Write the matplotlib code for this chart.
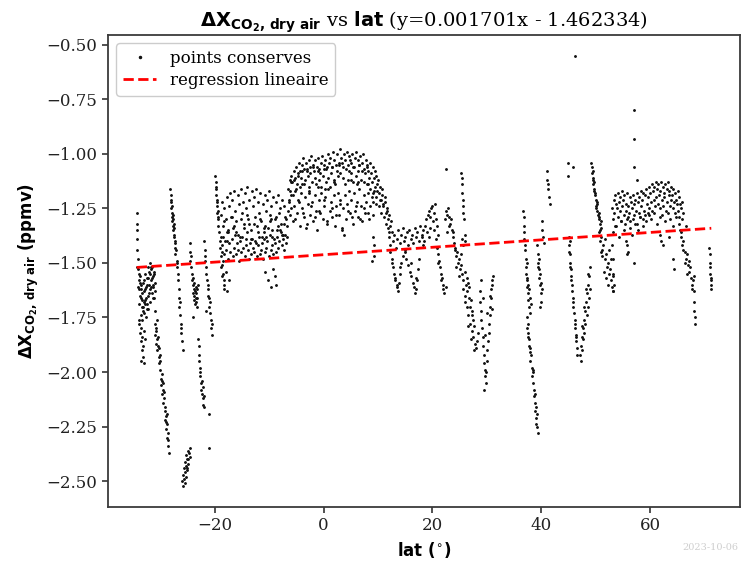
import matplotlib
matplotlib.use("Agg")
import matplotlib.pyplot as plt
import numpy as np

# ---------------- data ----------------
slope = 0.001701
intercept = -1.462334

# lat -34.3 .. -30.8
lat_s1 = [-34.3, -34.2, -34.3, -34.2, -34.3, -34.1, -34.2,
          -34.0, -33.9, -33.8, -33.7, -33.6, -33.5, -33.4, -33.3, -33.2, -33.1, -33.0, -32.9, -32.8, -32.7, -32.6, -32.5,
          -32.4, -32.3, -32.2, -32.1, -32.0, -31.9, -31.8, -31.7, -31.6, -31.5, -31.4, -31.3, -31.2, -31.1, -31.0, -30.9,
          -34.05, -33.95, -33.85, -33.75, -33.65, -33.55, -33.45, -33.35, -33.25, -33.15, -33.05, -32.95, -32.85, -32.75,
          -32.65, -32.55, -32.45, -32.35, -32.25, -32.15, -32.05, -31.95, -31.85, -31.75, -31.65, -31.55, -31.45, -31.35,
          -31.25, -31.15,
          -33.9, -33.7, -33.5, -33.6, -33.3, -33.4, -33.1, -33.2, -32.9, -33.0, -32.8, -33.5, -33.8]
val_s1 = [-1.27, -1.32, -1.35, -1.39, -1.44, -1.48, -1.52,
          -1.53, -1.58, -1.62, -1.56, -1.66, -1.60, -1.70, -1.64, -1.72, -1.59, -1.68, -1.63, -1.55, -1.67, -1.61, -1.71,
          -1.57, -1.65, -1.52, -1.60, -1.54, -1.62, -1.50, -1.58, -1.53, -1.64, -1.56, -1.61, -1.55, -1.66, -1.59, -1.63,
          -1.61, -1.55, -1.69, -1.65, -1.59, -1.74, -1.62, -1.76, -1.67, -1.70, -1.58, -1.73, -1.69, -1.62,
          -1.75, -1.66, -1.69, -1.60, -1.71, -1.57, -1.64, -1.55, -1.68, -1.52, -1.61, -1.57, -1.52, -1.66,
          -1.60, -1.54,
          -1.78, -1.82, -1.80, -1.86, -1.84, -1.90, -1.88, -1.93, -1.81, -1.96, -1.85, -1.95, -1.76]

# lat -31 .. -28.4 (descending streak)
lat_s2 = [-31.0, -30.9, -30.8, -30.7, -30.6, -30.5, -30.4, -30.3, -30.2, -30.1, -30.0, -29.9, -29.8, -29.7, -29.6,
          -29.5, -29.4, -29.3, -29.2, -29.1, -29.0, -28.9, -28.8, -28.7, -28.6, -28.5, -28.4,
          -30.95, -30.75, -30.55, -30.35, -30.15, -29.95, -29.75, -29.55, -29.35, -29.15, -28.95, -28.75, -28.55]
val_s2 = [-1.78, -1.83, -1.80, -1.87, -1.85, -1.90, -1.88, -1.93, -1.96, -1.92, -1.99, -2.03, -2.06, -2.01, -2.10,
          -2.08, -2.14, -2.12, -2.18, -2.22, -2.20, -2.26, -2.24, -2.30, -2.28, -2.34, -2.37,
          -1.72, -1.81, -1.76, -1.84, -1.89, -1.95, -2.04, -2.05, -2.09, -2.16, -2.23, -2.19, -2.31]

# lat -28.2 .. -25.9 (streak from -1.16)
lat_s3 = [-28.2, -28.1, -28.1, -28.0, -28.0, -27.9, -27.9, -27.8, -27.8, -27.7, -27.7, -27.6, -27.6, -27.5, -27.5,
          -27.4, -27.4, -27.3, -27.3, -27.2, -27.2, -27.1, -27.0, -27.0, -26.9, -26.8, -26.7, -26.6, -26.6, -26.5,
          -26.4, -26.3, -26.2, -26.2, -26.1, -26.0, -25.9]
val_s3 = [-1.16, -1.19, -1.22, -1.21, -1.25, -1.27, -1.24, -1.29, -1.31, -1.28, -1.33, -1.30, -1.35, -1.32, -1.37,
          -1.34, -1.38, -1.40, -1.43, -1.41, -1.46, -1.44, -1.49, -1.52, -1.50, -1.55, -1.58, -1.62, -1.66, -1.70,
          -1.68, -1.74, -1.78, -1.82, -1.80, -1.86, -1.90]

# low cluster lat -26 .. -24.5
lat_s4 = [-26.0, -25.9, -25.8, -25.7, -25.6, -25.5, -25.4, -25.3, -25.2, -25.1, -25.0, -24.9, -24.8, -24.7, -24.6,
          -24.5, -25.5, -25.3, -25.0, -24.8]
val_s4 = [-2.50, -2.52, -2.47, -2.49, -2.44, -2.46, -2.41, -2.43, -2.38, -2.45, -2.40, -2.36, -2.42, -2.37, -2.35,
          -2.39, -2.51, -2.48, -2.44, -2.40]

# lat -24.6 .. -23.1
lat_s5 = [-24.6, -24.5, -24.5, -24.4, -24.3, -24.2, -24.1, -24.0, -23.9, -23.9, -23.8, -23.8, -23.7, -23.7, -23.6,
          -23.6, -23.5, -23.5, -23.4, -23.4, -23.3, -23.3, -23.2, -23.1, -24.0]
val_s5 = [-1.41, -1.45, -1.49, -1.47, -1.52, -1.55, -1.58, -1.57, -1.60, -1.64, -1.62, -1.67, -1.59, -1.65, -1.63,
          -1.69, -1.61, -1.66, -1.68, -1.64, -1.70, -1.62, -1.66, -1.60, -1.75]

# lat -23 .. -20.4
lat_s6 = [-23.0, -22.9, -22.9, -22.8, -22.7, -22.7, -22.6, -22.5, -22.5, -22.4, -22.3, -22.2, -22.2, -22.1, -22.0,
          -21.9, -21.0, -21.0,
          -21.9, -21.8, -21.8, -21.7, -21.6, -21.5, -21.4, -21.3, -21.2, -21.1, -21.0, -20.9, -20.8, -20.7, -20.6,
          -20.5, -20.4, -21.5, -21.2]
val_s6 = [-1.85, -1.88, -1.92, -1.95, -1.98, -2.02, -2.00, -2.05, -2.08, -2.04, -2.10, -2.07, -2.12, -2.15, -2.11,
          -2.16, -2.19, -2.35,
          -1.40, -1.44, -1.49, -1.47, -1.52, -1.55, -1.58, -1.62, -1.60, -1.66, -1.70, -1.68, -1.73, -1.76, -1.80,
          -1.78, -1.83, -1.72, -1.65]

# lat -19.9 .. -18.2
lat_s7 = [-19.9, -19.8, -19.8, -19.7, -19.7, -19.6, -19.6, -19.5, -19.5, -19.4, -19.4, -19.3, -19.3, -19.2, -19.1,
          -19.0, -18.9, -18.8, -18.7, -18.6, -18.5, -18.4, -18.3, -18.2]
val_s7 = [-1.10, -1.13, -1.16, -1.15, -1.19, -1.21, -1.24, -1.22, -1.27, -1.26, -1.30, -1.33, -1.29, -1.36, -1.40,
          -1.43, -1.38, -1.47, -1.51, -1.45, -1.55, -1.49, -1.58, -1.62]

# cloud lat -18.8 .. -6.6
lat_s8 = [-18.8, -18.6, -18.4, -18.2, -18.0, -17.8, -17.6, -17.4, -17.2, -17.0, -16.8, -16.6, -16.4, -16.2, -16.0,
          -15.8, -15.6, -15.4, -15.2, -15.0, -14.8, -14.6, -14.4, -14.2, -14.0, -13.8, -13.6, -13.4, -13.2, -13.0,
          -12.8, -12.6, -12.4, -12.2, -12.0, -11.8, -11.6, -11.4, -11.2, -11.0, -10.8, -10.6, -10.4, -10.2, -10.0,
          -9.8, -9.6, -9.4, -9.2, -9.0, -8.8, -8.6, -8.4, -8.2, -8.0, -7.8, -7.6, -7.4, -7.2, -7.0, -6.8, -6.6,
          -18.7, -18.5, -18.3, -18.1, -17.9, -17.7, -17.5, -17.3, -17.1, -16.9, -16.7, -16.5, -16.3, -16.1, -15.9,
          -15.7, -15.5, -15.3, -15.1, -14.9, -14.7, -14.5, -14.3, -14.1, -13.9, -13.7, -13.5, -13.3, -13.1, -12.9,
          -12.7, -12.5, -12.3, -12.1, -11.9, -11.7, -11.5, -11.3, -11.1, -10.9, -10.7, -10.5, -10.3, -10.1, -9.9,
          -9.7, -9.5, -9.3, -9.1, -8.9, -8.7, -8.5, -8.3, -8.1, -7.9, -7.7, -7.5, -7.3, -7.1, -6.9, -6.7,
          -18.3, -17.5, -16.9, -16.4, -15.7, -15.1, -14.6, -14.0, -13.3, -12.7, -12.1, -11.6, -11.0, -10.5, -9.9,
          -9.4, -8.8, -8.3, -7.7, -7.2, -17.8, -16.0, -14.3, -12.4, -10.8, -9.6, -8.0, -6.9, -13.6, -11.3,
          -10.8, -10.2, -9.6, -9.0, -8.7, -9.3,
          -18.9, -18.6, -18.3, -18.0, -17.7, -17.4]
val_s8 = [-1.28, -1.22, -1.33, -1.25, -1.30, -1.20, -1.36, -1.24, -1.18, -1.29, -1.21, -1.34, -1.17, -1.26, -1.31,
          -1.19, -1.23, -1.38, -1.16, -1.27, -1.22, -1.32, -1.18, -1.25, -1.15, -1.30, -1.21, -1.35, -1.17, -1.24,
          -1.20, -1.29, -1.16, -1.33, -1.22, -1.27, -1.18, -1.31, -1.23, -1.36, -1.19, -1.26, -1.21, -1.34, -1.17,
          -1.28, -1.24, -1.38, -1.20, -1.30, -1.22, -1.35, -1.19, -1.27, -1.25, -1.32, -1.21, -1.37, -1.24, -1.29,
          -1.33, -1.26,
          -1.42, -1.38, -1.46, -1.40, -1.44, -1.36, -1.48, -1.41, -1.45, -1.39, -1.47, -1.43, -1.37, -1.46, -1.41,
          -1.44, -1.49, -1.40, -1.45, -1.38, -1.43, -1.47, -1.42, -1.36, -1.44, -1.48, -1.41, -1.46, -1.39, -1.43,
          -1.45, -1.40, -1.47, -1.42, -1.38, -1.46, -1.44, -1.41, -1.48, -1.39, -1.45, -1.43, -1.40, -1.47, -1.37,
          -1.44, -1.42, -1.46, -1.39, -1.41, -1.45, -1.38, -1.43, -1.40, -1.36, -1.42, -1.39, -1.44, -1.37, -1.41,
          -1.38,
          -1.31, -1.35, -1.29, -1.33, -1.37, -1.30, -1.34, -1.28, -1.39, -1.32, -1.36, -1.30, -1.34, -1.38, -1.31,
          -1.35, -1.29, -1.33, -1.37, -1.32, -1.40, -1.36, -1.39, -1.41, -1.33, -1.30, -1.35, -1.30, -1.32, -1.38,
          -1.54, -1.58, -1.61, -1.56, -1.60, -1.53,
          -1.52, -1.56, -1.60, -1.54, -1.63, -1.58]

# equatorial band lat -6.5 .. 9.6
lat_s9 = [-6.5, -6.25, -6.0, -5.75, -5.5, -5.25, -5.0, -4.75, -4.5, -4.25, -4.0, -3.75, -3.5, -3.25, -3.0, -2.75,
          -2.5, -2.25, -2.0, -1.75, -1.5, -1.25, -1.0, -0.75, -0.5, -0.25, 0.0, 0.25, 0.5, 0.75, 1.0, 1.25, 1.5,
          1.75, 2.0, 2.25, 2.5, 2.75, 3.0, 3.25, 3.5, 3.75, 4.0, 4.25, 4.5, 4.75, 5.0, 5.25, 5.5, 5.75, 6.0, 6.25,
          6.5, 6.75, 7.0, 7.25, 7.5, 7.75, 8.0, 8.25, 8.5, 8.75, 9.0, 9.25, 9.5,
          -6.4, -6.1, -5.9, -5.6, -5.4, -5.1, -4.9, -4.6, -4.4, -4.1, -3.9, -3.6, -3.4, -3.1, -2.9, -2.6, -2.4,
          -2.1, -1.9, -1.6, -1.4, -1.1, -0.9, -0.6, -0.4, -0.1, 0.1, 0.4, 0.6, 0.9, 1.1, 1.4, 1.6, 1.9, 2.1, 2.4,
          2.6, 2.9, 3.1, 3.4, 3.6, 3.9, 4.1, 4.4, 4.6, 4.9, 5.1, 5.4, 5.6, 5.9, 6.1, 6.4, 6.6, 6.9, 7.1, 7.4, 7.6,
          7.9, 8.1, 8.4, 8.6, 8.9, 9.1, 9.4,
          -6.4, -6.15, -5.9, -5.65, -5.4, -5.15, -4.9, -4.65, -4.4, -4.15, -3.9, -3.65, -3.4, -3.15, -2.9, -2.65,
          -2.4, -2.15, -1.9, -1.65, -1.4, -1.15, -0.9, -0.65, -0.4, -0.15, 0.1, 0.35, 0.6, 0.85, 1.1, 1.35, 1.6,
          1.85, 2.1, 2.35, 2.6, 2.85, 3.1, 3.35, 3.6, 3.85, 4.1, 4.35, 4.6, 4.85, 5.1, 5.35, 5.6, 5.85, 6.1, 6.35,
          6.6, 6.85, 7.1, 7.35, 7.6, 7.85, 8.1, 8.35, 8.6, 8.85, 9.1, 9.35, 9.6,
          -6.0, -5.3, -4.5, -3.8, -3.0, -2.3, -1.5, -0.8, 0.0, 0.7, 1.5, 2.2, 3.0, 3.3, 3.7, 4.5, 5.2, 6.0, 6.7,
          7.5, 8.2, 9.0, -4.0, -1.0, 2.0, 5.0, 8.0, -2.7, 0.3, 6.4]
val_s9 = [-1.16, -1.12, -1.10, -1.13, -1.08, -1.11, -1.06, -1.09, -1.04, -1.08, -1.05, -1.02, -1.07, -1.04, -1.08,
          -1.03, -1.06, -1.01, -1.05, -1.08, -1.03, -1.06, -1.02, -1.07, -1.04, -1.01, -1.05, -1.03, -1.07, -1.00,
          -1.04, -1.02, -1.06, -0.99, -1.03, -1.05, -1.00, -1.04, -0.98, -1.02, -1.06, -1.00, -1.03, -0.99, -1.05,
          -1.01, -1.04, -1.00, -1.06, -1.02, -0.99, -1.03, -1.05, -1.01, -1.04, -1.00, -1.07, -1.03, -1.05, -1.08,
          -1.04, -1.09, -1.06, -1.11, -1.08,
          -1.21, -1.17, -1.13, -1.19, -1.12, -1.16, -1.14, -1.10, -1.15, -1.11,
          -1.08, -1.14, -1.12, -1.07, -1.10, -1.15, -1.09, -1.13, -1.06, -1.11,
          -1.14, -1.08, -1.12, -1.09, -1.15, -1.10, -1.07, -1.13, -1.06, -1.11,
          -1.15, -1.09, -1.06, -1.12, -1.14, -1.08, -1.10, -1.05, -1.09, -1.04,
          -1.11, -1.14, -1.07, -1.12, -1.08, -1.03, -1.09, -1.13, -1.06, -1.10,
          -1.14, -1.08, -1.05, -1.12, -1.08, -1.13, -1.09, -1.06, -1.14, -1.11,
          -1.16, -1.13, -1.18, -1.15,
          -1.22, -1.28, -1.19, -1.31, -1.24, -1.17, -1.27, -1.21, -1.33, -1.18, -1.25, -1.29, -1.20, -1.34, -1.23,
          -1.17, -1.28, -1.22, -1.31, -1.19, -1.26, -1.35, -1.21, -1.27, -1.18, -1.30, -1.24, -1.20, -1.32, -1.16,
          -1.26, -1.22, -1.29, -1.19, -1.33, -1.24, -1.18, -1.28, -1.21, -1.35, -1.25, -1.19, -1.30, -1.23, -1.17,
          -1.27, -1.21, -1.32, -1.18, -1.26, -1.22, -1.29, -1.16, -1.24, -1.31, -1.19, -1.27, -1.22, -1.18, -1.30,
          -1.24, -1.20, -1.28, -1.17, -1.23,
          -1.25, -1.30, -1.22, -1.27, -1.32, -1.24, -1.29, -1.26, -1.21, -1.31, -1.25, -1.28, -1.23, -1.34, -1.37,
          -1.26, -1.29, -1.24, -1.30, -1.25, -1.27, -1.22, -1.14, -1.15, -1.13, -1.12, -1.14, -1.18, -1.16, -1.13]

# lat 8.9 .. 12.4 (descending)
lat_s10 = [9.6, 9.8, 10.0, 10.2, 10.4, 10.6, 10.8, 11.0, 11.2, 11.4, 11.6, 11.8, 12.0, 12.2, 12.4, 9.7, 9.9, 10.1,
           10.3, 10.5, 10.7, 10.9, 11.1, 11.3, 11.5, 11.7, 11.9, 12.1, 9.0, 9.2, 9.3, 8.9]
val_s10 = [-1.10, -1.14, -1.12, -1.18, -1.15, -1.21, -1.19, -1.24, -1.22, -1.27, -1.25, -1.30, -1.28, -1.33, -1.31,
           -1.20, -1.17, -1.24, -1.21, -1.27, -1.16, -1.23, -1.29, -1.20, -1.32, -1.26, -1.34, -1.36, -1.38, -1.42,
           -1.47, -1.49]

# lat 12 .. 18
lat_s11 = [12.0, 12.25, 12.5, 12.75, 13.0, 13.25, 13.5, 13.75, 14.0, 14.25, 14.5, 14.75, 15.0, 15.25, 15.5, 15.75,
           16.0, 16.25, 16.5, 16.75, 17.0, 17.25, 17.5, 17.75, 18.0,
           12.2, 12.5, 12.8, 13.0, 13.2, 13.4, 13.6, 13.8, 14.0, 14.3, 14.6, 14.9, 15.2, 15.5, 15.8, 16.1, 16.4,
           16.6, 16.8, 17.0, 17.2, 17.4, 17.6, 12.6, 13.1, 13.5, 14.1, 15.0, 16.0, 16.9]
val_s11 = [-1.38, -1.42, -1.36, -1.40, -1.37, -1.43, -1.39, -1.35, -1.41, -1.37, -1.34, -1.40, -1.38, -1.36, -1.42,
           -1.35, -1.39, -1.37, -1.41, -1.34, -1.38, -1.36, -1.40, -1.33, -1.37,
           -1.45, -1.48, -1.52, -1.55, -1.58, -1.61, -1.63, -1.59, -1.55, -1.50, -1.47, -1.45, -1.48, -1.51, -1.54,
           -1.56, -1.59, -1.61, -1.64, -1.62, -1.58, -1.53, -1.48, -1.50, -1.57, -1.60, -1.52, -1.44, -1.50, -1.57]

# lat 18 .. 24.1
lat_s12 = [18.0, 18.3, 18.6, 18.9, 19.2, 19.4, 19.6, 19.8, 20.0, 20.2, 20.4, 20.6, 20.8, 21.0, 18.5, 19.0, 19.5,
           20.1, 20.7, 18.2, 19.3, 20.3,
           20.8, 21.0, 21.2, 21.4, 21.5, 21.7, 21.9, 22.0, 22.2, 22.4, 21.1, 21.6,
           22.3, 22.5, 22.7, 22.9, 23.1, 23.3, 23.5, 23.7, 23.9, 24.1, 22.6, 23.0, 23.4, 23.8,
           22.5]
val_s12 = [-1.38, -1.35, -1.33, -1.30, -1.28, -1.26, -1.29, -1.25, -1.24, -1.27, -1.23, -1.30, -1.33, -1.37, -1.40,
           -1.36, -1.34, -1.31, -1.39, -1.42, -1.38, -1.35,
           -1.43, -1.46, -1.49, -1.52, -1.55, -1.57, -1.60, -1.62, -1.64, -1.61, -1.50, -1.58,
           -1.30, -1.26, -1.28, -1.25, -1.29, -1.32, -1.35, -1.38, -1.41, -1.44, -1.36, -1.33, -1.30, -1.36,
           -1.07]

# lat 24 .. 31.2
lat_s13 = [25.3, 25.4, 25.5, 25.5, 25.6, 25.6, 25.7, 25.8, 25.9, 26.0, 25.4, 25.6,
           24.1, 24.3, 24.5, 24.7, 24.9, 25.1, 25.3, 25.5, 25.7, 25.9, 26.1, 26.3, 26.5, 26.7, 26.9, 27.1, 27.3,
           27.5, 27.7, 24.4, 24.8, 25.2, 25.6, 26.0, 26.4, 26.8, 27.2,
           26.0, 26.3, 26.6, 26.9, 27.2, 27.5, 27.8, 28.0, 28.2, 28.4, 26.5, 27.0, 27.6,
           28.7, 28.8, 28.9, 29.0, 29.1, 29.2, 29.3, 29.4, 29.5, 29.6, 29.7, 29.8, 29.9, 30.0, 30.1, 30.2, 30.3,
           30.4, 30.5, 30.6, 30.7, 30.8, 30.9, 31.0, 31.1, 28.9, 29.3, 29.7, 30.1, 30.5, 30.9, 29.5]
val_s13 = [-1.09, -1.11, -1.14, -1.18, -1.21, -1.24, -1.27, -1.30, -1.37, -1.40, -1.39, -1.42,
           -1.43, -1.47, -1.45, -1.50, -1.48, -1.53, -1.51, -1.55, -1.58, -1.54, -1.60, -1.63, -1.59, -1.66, -1.70,
           -1.67, -1.72, -1.76, -1.79, -1.52, -1.56, -1.46, -1.62, -1.68, -1.57, -1.61, -1.74,
           -1.65, -1.70, -1.74, -1.78, -1.81, -1.84, -1.87, -1.89, -1.86, -1.82, -1.79, -1.85, -1.90,
           -1.63, -1.68, -1.72, -1.76, -1.80, -1.84, -1.88, -1.92, -1.96, -1.99, -2.02, -2.05, -2.00, -1.95, -1.90,
           -1.86, -1.82, -1.78, -1.74, -1.70, -1.66, -1.62, -1.60, -1.58, -1.56, -1.58, -1.66, -1.83, -1.73, -1.65,
           -1.71, -2.08]

# lat 36.7 .. 41.6
lat_s14 = [36.7, 36.8, 36.8, 36.9, 36.9, 37.0,
           37.0, 37.1, 37.2, 37.2, 37.3, 37.4, 37.4, 37.5, 37.6, 37.7, 37.8, 37.9, 38.0, 38.1, 37.3, 37.6,
           37.3, 37.4, 37.5, 37.6, 37.7, 37.8, 37.9, 38.0, 38.1, 38.2, 38.3, 38.4, 38.5, 38.6, 38.7, 38.8, 38.9,
           39.0, 39.1, 39.2, 39.3, 37.6, 38.0, 38.4, 38.8, 39.2, 39.0,
           41.0, 41.1, 41.2, 41.3, 41.4, 41.5, 40.1, 40.2, 40.3, 40.4,
           39.2, 39.3, 39.4, 39.5, 39.6, 39.7, 39.8, 39.9, 40.0, 40.1, 39.5, 39.8, 40.0, 39.3]
val_s14 = [-1.26, -1.29, -1.33, -1.36, -1.39, -1.42,
           -1.44, -1.48, -1.52, -1.55, -1.58, -1.61, -1.50, -1.64, -1.67, -1.62, -1.70, -1.66, -1.73, -1.69, -1.57,
           -1.60,
           -1.75, -1.80, -1.78, -1.84, -1.88, -1.85, -1.91, -1.95, -1.92, -1.98, -2.02, -1.99, -2.05, -2.08, -2.11,
           -2.14, -2.18, -2.16, -2.21, -2.25, -2.28, -1.82, -1.89, -2.00, -2.10, -2.19, -2.24,
           -1.08, -1.12, -1.16, -1.14, -1.20, -1.23, -1.31, -1.35, -1.38, -1.41,
           -1.42, -1.46, -1.50, -1.53, -1.57, -1.60, -1.55, -1.64, -1.68, -1.62, -1.48, -1.70, -1.59, -1.52]

# lat 44.8 .. 53.2
lat_s15 = [44.8, 44.9, 45.9,
           45.0, 45.1, 45.2, 45.3, 45.4, 45.5, 45.6, 45.7, 45.8, 45.9, 46.0, 46.1, 46.2, 46.3, 46.4, 46.5, 46.6,
           45.2, 45.5, 45.8, 46.1, 46.4, 45.0, 45.3,
           46.2,
           47.1, 47.2, 47.3, 47.4, 47.5, 47.6, 47.7, 47.8, 47.9, 48.0, 48.1, 48.2, 48.3, 48.4, 48.5, 48.6, 48.7,
           48.8, 48.9, 49.0, 47.4, 47.8, 48.2, 48.6,
           49.2, 49.3, 49.3, 49.4, 49.5, 49.5, 49.6, 49.7, 49.8, 49.9, 50.0, 50.1, 50.2, 50.3, 50.4, 50.5, 50.6,
           50.7, 50.8, 50.9, 51.0, 49.4, 49.7, 50.0, 50.3, 50.6,
           50.6, 50.8, 51.0, 51.2, 51.4, 51.6, 51.8, 52.0, 52.2, 52.4, 52.6, 52.8, 53.0, 53.2, 51.1, 51.5, 51.9,
           52.3, 52.7, 53.1, 50.9, 51.7, 52.5]
val_s15 = [-1.04, -1.10, -1.06,
           -1.38, -1.42, -1.46, -1.50, -1.53, -1.56, -1.60, -1.63, -1.66, -1.70, -1.73, -1.76, -1.80, -1.83, -1.86,
           -1.89, -1.92, -1.52, -1.58, -1.68, -1.78, -1.84, -1.45, -1.40,
           -0.554,
           -1.92, -1.95, -1.88, -1.84, -1.90, -1.80, -1.85, -1.76, -1.82, -1.72, -1.78, -1.68, -1.74, -1.64, -1.70,
           -1.60, -1.66, -1.56, -1.62, -1.52, -1.79, -1.70, -1.62, -1.55,
           -1.04, -1.06, -1.09, -1.08, -1.11, -1.14, -1.13, -1.16, -1.19, -1.18, -1.21, -1.24, -1.22, -1.26, -1.28,
           -1.30, -1.27, -1.32, -1.35, -1.31, -1.34, -1.12, -1.17, -1.25, -1.23, -1.29,
           -1.36, -1.40, -1.38, -1.44, -1.42, -1.48, -1.46, -1.52, -1.50, -1.55, -1.53, -1.58, -1.61, -1.63, -1.47,
           -1.54, -1.57, -1.60, -1.48, -1.56, -1.45, -1.39, -1.44]

# cloud lat 53 .. 66
lat_s16 = [53.0, 53.25, 53.5, 53.75, 54.0, 54.25, 54.5, 54.75, 55.0, 55.25, 55.5, 55.75, 56.0, 56.25, 56.5, 56.75,
           57.0, 57.25, 57.5, 57.75, 58.0, 58.25, 58.5, 58.75, 59.0, 59.25, 59.5, 59.75, 60.0, 60.25, 60.5, 60.75,
           61.0, 61.25, 61.5, 61.75, 62.0, 62.25, 62.5, 62.75, 63.0, 63.25, 63.5, 63.75, 64.0, 64.25, 64.5, 64.75,
           65.0, 65.25, 65.5, 65.75, 66.0,
           53.1, 53.35, 53.6, 53.85, 54.1, 54.35, 54.6, 54.85, 55.1, 55.35, 55.6, 55.85, 56.1, 56.35, 56.6, 56.85,
           57.1, 57.35, 57.6, 57.85, 58.1, 58.35, 58.6, 58.85, 59.1, 59.35, 59.6, 59.85, 60.1, 60.35, 60.6, 60.85,
           61.1, 61.35, 61.6, 61.85, 62.1, 62.35, 62.6, 62.85, 63.1, 63.35, 63.6, 63.85, 64.1, 64.35, 64.6, 64.85,
           65.1, 65.35, 65.6, 65.85,
           53.2, 53.7, 54.2, 54.7, 55.2, 55.7, 56.2, 56.7, 57.2, 57.7, 58.2, 58.7, 59.2, 59.7, 60.2, 60.7, 61.2,
           61.7, 62.2, 62.7, 63.2, 63.7, 64.2, 64.7, 65.2, 65.7,
           53.0, 53.1, 53.2, 53.3, 53.1, 55.5, 56.0, 55.8, 61.8, 62.0, 62.3, 63.5, 64.2, 64.3, 55.7, 57.0,
           57.0, 57.0, 57.0, 57.5]
val_s16 = [-1.25, -1.21, -1.19, -1.23, -1.18, -1.22, -1.20, -1.17, -1.21, -1.19, -1.23, -1.18, -1.24, -1.20, -1.22,
           -1.19, -1.23, -1.21, -1.18, -1.22, -1.20, -1.17, -1.21, -1.18, -1.19, -1.16, -1.20, -1.15, -1.18, -1.14,
           -1.17, -1.15, -1.13, -1.16, -1.14, -1.17, -1.13, -1.15, -1.18, -1.14, -1.16, -1.13, -1.17, -1.15, -1.19,
           -1.16, -1.18, -1.21, -1.17, -1.20, -1.23, -1.22, -1.27,
           -1.30, -1.27, -1.33, -1.25, -1.29, -1.26, -1.31, -1.24, -1.28, -1.32, -1.26, -1.29, -1.27, -1.31, -1.25,
           -1.30, -1.28, -1.26, -1.32, -1.27, -1.29, -1.24, -1.30, -1.26, -1.28, -1.23, -1.27, -1.25, -1.22, -1.26,
           -1.21, -1.24, -1.20, -1.23, -1.19, -1.25, -1.21, -1.24, -1.20, -1.26, -1.22, -1.19, -1.24, -1.21, -1.25,
           -1.22, -1.27, -1.23, -1.26, -1.29, -1.25, -1.30,
           -1.36, -1.33, -1.38, -1.31, -1.35, -1.30, -1.34, -1.37, -1.32, -1.35, -1.29, -1.33, -1.31, -1.28, -1.30,
           -1.27, -1.32, -1.29, -1.28, -1.31, -1.27, -1.30, -1.33, -1.29, -1.32, -1.36,
           -1.42, -1.48, -1.55, -1.60, -1.63, -1.40, -1.45, -1.42, -1.37, -1.40, -1.42, -1.38, -1.48, -1.53, -1.46,
           -1.50,
           -0.80, -0.93, -1.06, -1.12]

# lat 65.5 .. 71.2
lat_s17 = [65.5, 65.7, 65.9, 66.1, 66.3, 66.5, 66.7, 66.9, 67.1, 67.3, 67.5, 67.7, 67.9, 68.1, 66.0, 66.4, 66.8,
           67.2, 67.6, 68.0, 68.1, 68.1, 68.2, 68.2, 66.6,
           70.8, 70.9, 70.9, 71.0, 71.0, 71.1, 71.1, 71.2, 71.2]
val_s17 = [-1.35, -1.38, -1.42, -1.40, -1.45, -1.48, -1.46, -1.51, -1.54, -1.52, -1.57, -1.60, -1.58, -1.63, -1.44,
           -1.50, -1.55, -1.49, -1.62, -1.56, -1.68, -1.72, -1.75, -1.78, -1.33,
           -1.43, -1.46, -1.50, -1.52, -1.55, -1.57, -1.60, -1.62, -1.58]

lat_segments = [lat_s1, lat_s2, lat_s3, lat_s4, lat_s5, lat_s6, lat_s7, lat_s8, lat_s9,
                lat_s10, lat_s11, lat_s12, lat_s13, lat_s14, lat_s15, lat_s16, lat_s17]
val_segments = [val_s1, val_s2, val_s3, val_s4, val_s5, val_s6, val_s7, val_s8, val_s9,
                val_s10, val_s11, val_s12, val_s13, val_s14, val_s15, val_s16, val_s17]
for i, (a, b) in enumerate(zip(lat_segments, val_segments)):
    if len(a) != len(b):
        raise ValueError(f"segment {i+1}: {len(a)} lats vs {len(b)} values")

lat = np.concatenate([np.asarray(s, float) for s in lat_segments])
dxco2 = np.concatenate([np.asarray(s, float) for s in val_segments])

# ---------------- figure ----------------
plt.rcParams['font.family'] = ['DejaVu Serif']
plt.rcParams['font.size'] = 12
plt.rcParams['mathtext.fontset'] = 'dejavusans'

fig = plt.figure(figsize=(7.42, 5.62), dpi=100)
ax = fig.add_axes([0.1456, 0.0979, 0.8517, 0.8398])

ax.plot(lat, dxco2, linestyle='none', marker='.', markersize=2.1, color='#111111',
        label='points conserves')
xr = np.array([lat.min(), lat.max()])
ax.plot(xr, slope * xr + intercept, color='red', linestyle='--', linewidth=2,
        label='regression lineaire')

frame_col = '#3a3a3a'
for sp in ax.spines.values():
    sp.set_color(frame_col)
    sp.set_linewidth(1.3)
ax.tick_params(colors='#222222', labelsize=12, length=4, width=1.1)
ax.set_xticks([-20, 0, 20, 40, 60])
ax.set_yticks([-2.5, -2.25, -2.0, -1.75, -1.5, -1.25, -1.0, -0.75, -0.5])

ax.set_title(r'$\mathbf{\Delta X_{CO_2,\,dry\ air}}$ vs $\mathbf{lat}$ (y=0.001701x - 1.462334)',
             fontsize=14, pad=6)
ax.set_xlabel(r'lat ($^{\circ}$)', family='DejaVu Sans', weight='bold', fontsize=12)
ax.set_ylabel(r'$\mathbf{\Delta X_{CO_2,\,dry\ air}}$ (ppmv)', family='DejaVu Sans', weight='bold',
              fontsize=12)

leg = ax.legend(loc='upper left', fontsize=12, framealpha=1, edgecolor='#cccccc',
                handlelength=2.0, borderpad=0.4, labelspacing=0.3)
leg.legend_handles[0].set_markersize(3)

fig.text(0.995, 0.018, '2023-10-06', ha='right', va='bottom', color='#cfcfcf', fontsize=7)

fig.savefig('out.png', dpi=100)
